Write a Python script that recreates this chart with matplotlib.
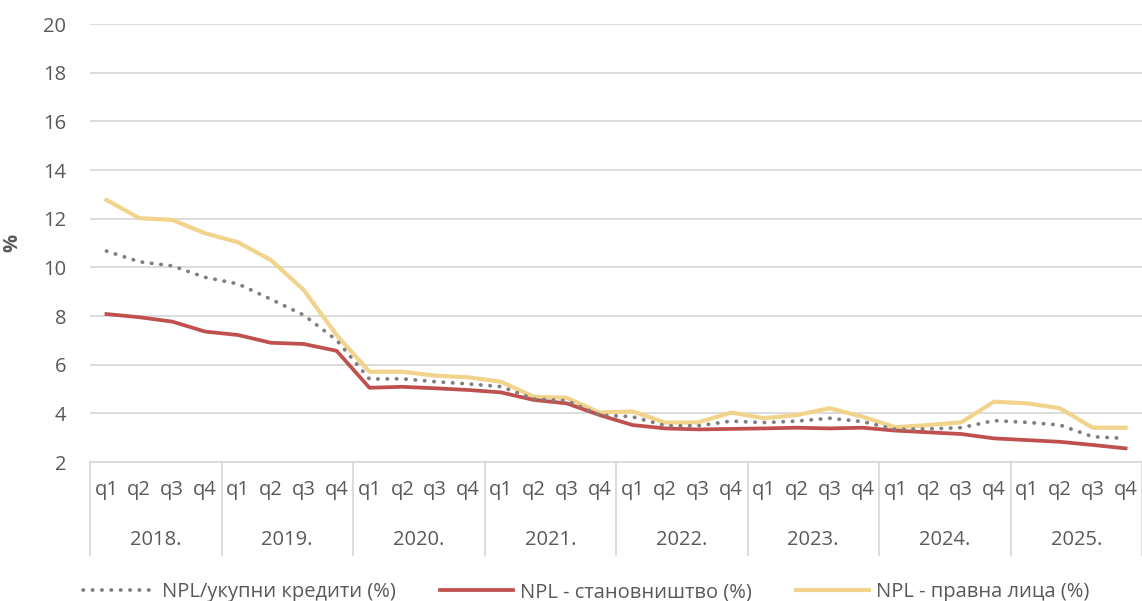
import numpy as np
import matplotlib.pyplot as plt
import matplotlib.transforms as mtransforms

plt.rcParams['font.family'] = ['Open Sans', 'DejaVu Sans']

years = ['2018.', '2019.', '2020.', '2021.', '2022.', '2023.', '2024.', '2025.']
quarters = ['q1', 'q2', 'q3', 'q4']

npl_total = [10.67, 10.23, 10.06, 9.59, 9.32, 8.69, 8.04, 7.01,
             5.41, 5.42, 5.30, 5.21, 5.10, 4.59, 4.52, 3.93,
             3.86, 3.49, 3.49, 3.68, 3.62, 3.68, 3.80, 3.66,
             3.34, 3.36, 3.41, 3.70, 3.63, 3.52, 3.04, 2.97]
npl_households = [8.08, 7.95, 7.77, 7.36, 7.22, 6.90, 6.85, 6.57,
                  5.05, 5.09, 5.03, 4.96, 4.86, 4.55, 4.41, 3.93,
                  3.52, 3.38, 3.34, 3.36, 3.38, 3.41, 3.38, 3.41,
                  3.29, 3.22, 3.15, 2.97, 2.90, 2.83, 2.70, 2.56]
npl_legal = [12.77, 12.02, 11.95, 11.40, 11.03, 10.30, 9.07, 7.22,
             5.71, 5.71, 5.55, 5.48, 5.30, 4.68, 4.64, 4.03,
             4.08, 3.62, 3.63, 4.03, 3.80, 3.93, 4.21, 3.86,
             3.43, 3.52, 3.63, 4.48, 4.41, 4.21, 3.41, 3.41]

labels = ['NPL/укупни кредити (%)', 'NPL - становништво (%)', 'NPL - правна лица (%)']

txt = '#595959'
grid = '#d9d9d9'
fs = 14.5

fig = plt.figure(figsize=(11.42, 6.01), dpi=100)
ax = fig.add_axes([90 / 1142, 1 - 462 / 601, 1052 / 1142, (462 - 24) / 601])

x = np.arange(len(npl_total))
ax.plot(x, npl_total, color='#7f7f7f', lw=2.7, linestyle=(0, (0.1, 2.4)),
        dash_capstyle='round', label=labels[0], zorder=4)
ax.plot(x, npl_households, color='#c0504d', lw=2.7, label=labels[1], zorder=3)
ax.plot(x, npl_legal, color='#f2d38b', lw=3.0, label=labels[2], zorder=2)

ax.set_ylim(2, 20)
ax.set_yticks(np.arange(2, 21, 2))
ax.set_xlim(-0.5, len(x) - 0.5)
ax.set_xticks(x)
ax.set_xticklabels(quarters * len(years))
ax.grid(axis='y', color=grid, lw=1.3)
ax.set_axisbelow(True)
for s in ['top', 'right', 'left']:
    ax.spines[s].set_visible(False)
ax.spines['bottom'].set_color(grid)
ax.spines['bottom'].set_linewidth(1.3)
ax.tick_params(axis='both', length=0, labelsize=fs, labelcolor=txt)
ax.tick_params(axis='y', pad=17)
ax.tick_params(axis='x', pad=13)
ax.set_ylabel('%', fontsize=fs, color=txt, fontweight='bold')
ax.yaxis.set_label_coords(-68 / 1052, 0.5)

# year group separators and labels
trans = mtransforms.blended_transform_factory(ax.transData, ax.transAxes)
for i in range(len(years) + 1):
    ax.plot([i * 4 - 0.5, i * 4 - 0.5], [0, -93 / 438], transform=trans,
            color=grid, lw=1.3, clip_on=False)
for i, yr in enumerate(years):
    ax.text(i * 4 + 1.5, -78 / 438, yr, transform=trans, ha='center', va='center',
            fontsize=fs, color=txt)

leg = fig.legend(loc='lower center', bbox_to_anchor=(0.513, -0.032), ncol=3, frameon=False,
                 fontsize=fs, handlelength=3.6, handletextpad=0.35, columnspacing=2.2)
for t in leg.get_texts():
    t.set_color(txt)

fig.savefig('out.png', dpi=100)
